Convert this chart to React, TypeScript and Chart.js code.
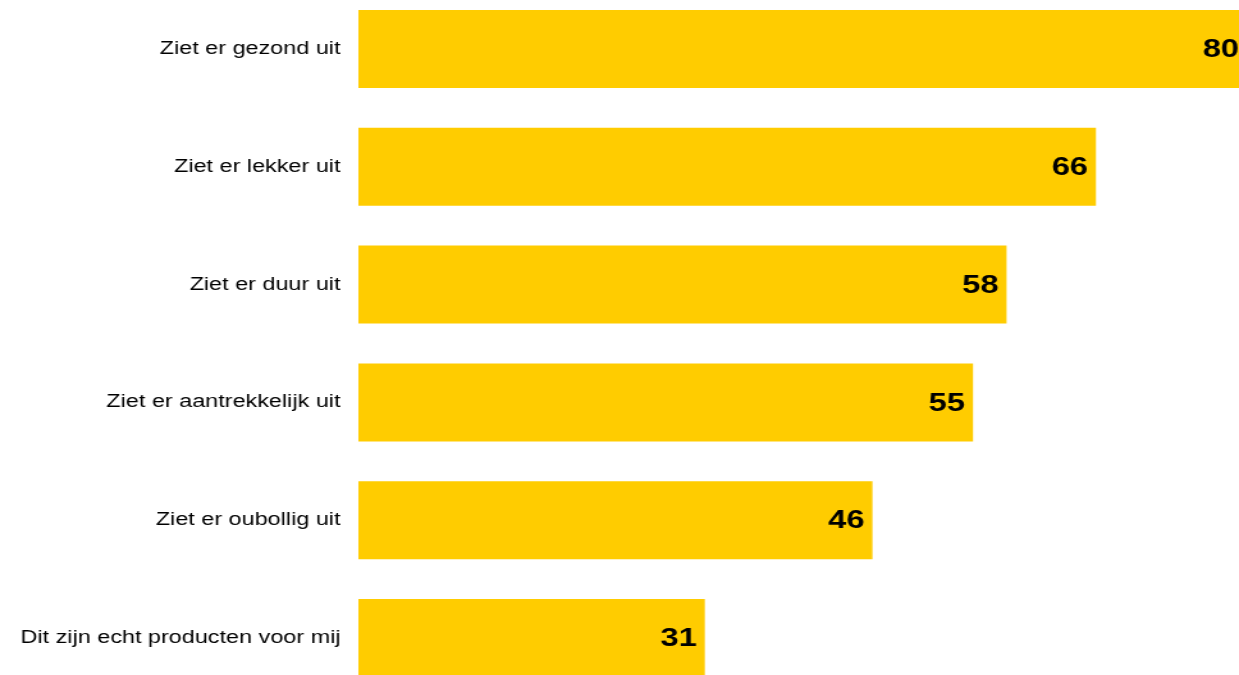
import React, { useEffect, useRef } from "react";
import { Chart, registerables } from "chart.js";

Chart.register(...registerables);

const categories: string[] = [
  "Ziet er gezond uit",
  "Ziet er lekker uit",
  "Ziet er duur uit",
  "Ziet er aantrekkelijk uit",
  "Ziet er oubollig uit",
  "Dit zijn echt producten voor mij",
];
const values: number[] = [80, 66, 58, 55, 46, 31];

const BAR_COLOR = "#FFCC00";
const FONT = "'Liberation Sans', Arial, sans-serif";

// The reference is horizontally stretched; render at a narrower internal width and stretch via CSS.
const OUT_W = 1239;
const OUT_H = 675;
const INNER_W = 968;
const LABEL_SIZE = 25.5;

const valueLabels = {
  id: "valueLabels",
  afterDatasetsDraw(chart: any) {
    const ctx = chart.ctx;
    const meta = chart.getDatasetMeta(0);
    ctx.save();
    ctx.font = `bold ${LABEL_SIZE}px ${FONT}`;
    ctx.fillStyle = "#000";
    ctx.textAlign = "right";
    ctx.textBaseline = "alphabetic";
    meta.data.forEach((bar: any, i: number) => {
      const v = chart.data.datasets[0].data[i];
      const x = Math.min(bar.x - 6.25, chart.width);
      ctx.fillText(String(v), x, bar.y + 0.358 * LABEL_SIZE - 1);
    });
    ctx.restore();
  },
};

export default function App() {
  const ref = useRef<HTMLCanvasElement | null>(null);
  useEffect(() => {
    if (!ref.current) return;
    const chart = new Chart(ref.current, {
      type: "bar",
      data: {
        labels: categories,
        datasets: [
          {
            data: values,
            backgroundColor: BAR_COLOR,
            borderWidth: 0,
            barPercentage: 0.662,
            categoryPercentage: 1,
            clip: false as any,
          },
        ],
      },
      options: {
        indexAxis: "y",
        animation: false,
        responsive: false,
        devicePixelRatio: 1,
        layout: { padding: { top: 49, bottom: 37, left: 0, right: 0 } },
        plugins: {
          legend: { display: false },
          tooltip: { enabled: false },
        },
        scales: {
          x: {
            display: false,
            min: 0,
            max: 78.8,
          },
          y: {
            offset: false,
            grid: { display: false, drawTicks: false },
            border: { display: false },
            ticks: {
              padding: 14,
              color: "#000",
              font: { family: FONT, size: 18.3 },
            },
            afterFit: (scale: any) => {
              scale.width = 280;
            },
          },
        },
      },
      plugins: [valueLabels],
    });
    return () => chart.destroy();
  }, []);
  return (
    <div style={{ position: "fixed", left: 0, top: 0, width: OUT_W, height: OUT_H, background: "#fff" }}>
      <canvas
        ref={ref}
        width={INNER_W}
        height={OUT_H}
        style={{ width: OUT_W + "px", height: OUT_H + "px", display: "block" }}
      />
    </div>
  );
}
